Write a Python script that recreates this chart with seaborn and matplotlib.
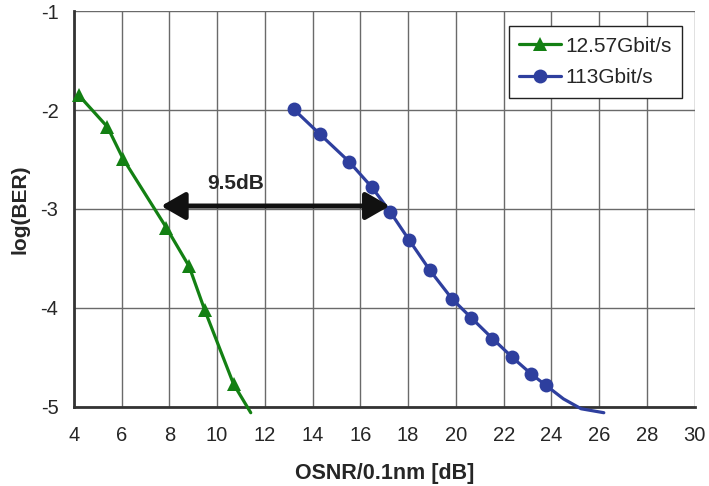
import matplotlib
matplotlib.use("Agg")
import matplotlib.pyplot as plt
import seaborn as sns

# 12.57 Gbit/s  (measured points, then where the curve runs out past the axis)
osnr_12g = [4.21, 5.41, 6.06, 7.88, 8.83, 9.48, 10.69, 11.41]
logber_12g = [-1.85, -2.17, -2.49, -3.19, -3.58, -4.02, -4.77, -5.06]
marks_12g = [0, 1, 2, 3, 4, 5, 6]

# 113 Gbit/s
osnr_113g = [13.2, 14.29, 15.52, 16.48, 17.25, 18.03, 18.91, 19.84, 20.64,
             21.53, 22.36, 23.16, 23.75, 24.5, 25.24, 26.19]
logber_113g = [-1.99, -2.24, -2.52, -2.78, -3.03, -3.31, -3.62, -3.91, -4.10,
               -4.31, -4.50, -4.67, -4.78, -4.92, -5.02, -5.06]
marks_113g = list(range(13))

gap_from, gap_to, gap_level = 7.66, 17.22, -2.97
gap_label = "9.5dB"
gap_label_pos = (10.78, -2.74)

sns.set_style("white")
plt.rcParams["font.family"] = ["Liberation Sans", "DejaVu Sans"]
plt.rcParams["axes.unicode_minus"] = False

fig, ax = plt.subplots(figsize=(7.09, 4.86), dpi=100)
fig.subplots_adjust(left=0.104, right=0.980, top=0.977, bottom=0.163)

sns.lineplot(x=osnr_12g, y=logber_12g, sort=False, ax=ax, color="#138013",
             lw=2.3, marker="^", markersize=10, markevery=marks_12g,
             markeredgewidth=0, label="12.57Gbit/s", clip_on=False, zorder=4)
sns.lineplot(x=osnr_113g, y=logber_113g, sort=False, ax=ax, color="#2e3f9e",
             lw=2.3, marker="o", markersize=10, markevery=marks_113g,
             markeredgewidth=0, label="113Gbit/s", clip_on=False, zorder=4)

# arrow showing the OSNR gap
ax.annotate("", xy=(gap_from, gap_level), xytext=(gap_to, gap_level),
            arrowprops=dict(arrowstyle="<|-|>,head_length=0.4,head_width=0.23",
                            color="#111111", lw=3.6, mutation_scale=36,
                            shrinkA=0, shrinkB=0), zorder=5)
ax.text(*gap_label_pos, gap_label, ha="center", va="center",
        fontsize=15, fontweight="bold")

ax.set_xlim(4, 30)
ax.set_ylim(-5, -1)
ax.set_xticks(range(4, 31, 2))
ax.set_yticks(range(-5, 0))
ax.grid(True, color="#6a6a6a", lw=1)
ax.set_axisbelow(True)
for side in ["top", "right"]:
    ax.spines[side].set_visible(False)
for side in ["left", "bottom"]:
    ax.spines[side].set_color("#333333")
    ax.spines[side].set_linewidth(2)
ax.tick_params(direction="out", length=6, width=1, color="#777777",
               labelsize=14.5)
ax.tick_params(axis="x", pad=8)
ax.tick_params(axis="y", pad=5)

ax.set_xlabel("OSNR/0.1nm [dB]", fontsize=15.5, fontweight="bold", labelpad=13)
ax.set_ylabel("log(BER)", fontsize=15, fontweight="bold", labelpad=8)

leg = ax.legend(loc="upper right", bbox_to_anchor=(0.979, 0.962),
                borderaxespad=0, fontsize=15, frameon=True, fancybox=False,
                framealpha=1, edgecolor="#222222", handlelength=2.0,
                handletextpad=0.2, borderpad=0.5, labelspacing=0.6)
leg.get_frame().set_linewidth(1)

fig.savefig("out.png", dpi=100)
